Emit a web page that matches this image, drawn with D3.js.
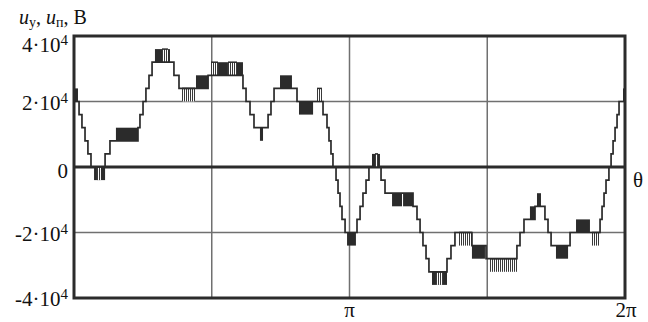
<!DOCTYPE html>
<html>
<head>
<meta charset="utf-8">
<script src="https://cdn.jsdelivr.net/npm/d3@7"></script>
<style>
  body { margin: 0; background: #fff; }
  svg { display: block; }
  text { font-family: "Liberation Serif", "Times New Roman", "DejaVu Serif", serif; }
</style>
</head>
<body>
<div id="chart"></div>
<script>
// staircase outline: theta in degrees (0..360 = 0..2pi), level in volts
const stepTheta = [0, 3.3, 5.2, 7.2, 9.1, 11.1, 20.3, 23.5, 41.8, 43.1, 45.1, 47.0, 49.0, 51.0, 65.3, 68.6,
  87.6, 110.4, 112.4, 115.0, 117.6, 126.8, 128.7, 130.7, 145.7, 162.7, 165.3, 166.6, 167.9, 169.2, 171.2,
  172.5, 173.8, 175.1, 177.1, 184.9, 186.9, 188.8, 190.8, 192.7, 200.6, 203.2, 221.5, 224.1, 226.1, 228.0,
  230.0, 231.9, 243.7, 246.3, 248.9, 260.0, 269.2, 289.4, 291.4, 294.0, 301.2, 307.7, 309.7, 311.7, 324.1,
  343.7, 345.0, 346.3, 347.6, 349.5, 350.9, 352.2, 353.5, 354.8, 356.1, 360];
const stepLevel = [20000, 16000, 12000, 8000, 4000, 0, 4000, 8000, 12000, 16000, 20000, 24000, 28000, 32000, 28000, 24000,
  28000, 24000, 20000, 16000, 12000, 16000, 20000, 24000, 20000, 16000, 12000, 8000, 4000, 0, -4000,
  -8000, -12000, -16000, -20000, -16000, -12000, -8000, -4000, 0, -4000, -8000, -12000, -16000, -20000, -24000,
  -28000, -32000, -28000, -24000, -20000, -24000, -28000, -24000, -20000, -16000, -12000, -16000, -20000, -24000, -20000,
  -16000, -12000, -8000, -4000, 0, 4000, 8000, 12000, 16000, 20000, 20000];

// fast switching between two neighbouring levels (solid blocks)
const pwmFrom = [0, 13.1, 27.4, 52.9, 79.7, 94.1, 106.5, 121.5, 134.6, 147.0, 178.4, 194.7, 207.8, 215.0,
  233.9, 260.0, 297.9, 302.5, 314.9, 328.0, 358.7];
const pwmTo = [2.6, 20.3, 41.8, 62.7, 87.6, 100.6, 110.4, 123.5, 142.4, 156.2, 184.2, 199.9, 214.3, 221.5,
  243.7, 268.5, 301.2, 305.1, 322.8, 337.1, 360];
const pwmLow = [20000, -4000, 8000, 32000, 24000, 28000, 28000, 8000, 24000, 16000, -24000, 0, -12000, -12000,
  -36000, -28000, -16000, -12000, -28000, -20000, 20000];

// sparse switching (hatched blocks)
const sparseFrom = [15.0, 57.5, 70.6, 89.5, 100.6, 158.8, 196.7, 236.5, 251.5, 271.8, 338.4];
const sparseTo = [17.6, 61.4, 79.1, 94.1, 106.5, 162.0, 198.6, 241.1, 260.0, 289.4, 343.7];
const sparseLow = [-4000, 32000, 20000, 28000, 28000, 20000, 0, -36000, -24000, -32000, -24000];

const levelStep = 4000;
const yTicks = [40000, 20000, 0, -20000, -40000];
const yGrid = [20000, -20000];
const xGrid = [90, 180, 270];
const xTicks = [180, 360];
const xTickLabels = ["π", "2π"];

const width = 648, height = 322;
const x = d3.scaleLinear().domain([0, 360]).range([74, 625]);
const y = d3.scaleLinear().domain([-40000, 40000]).range([298, 36]);
const ink = "#2b2b2b";

const svg = d3.select("#chart").append("svg")
  .attr("width", width)
  .attr("height", height)
  .attr("viewBox", `0 0 ${width} ${height}`);

// grid
svg.append("g").selectAll("line").data(xGrid).join("line")
  .attr("x1", d => x(d)).attr("x2", d => x(d))
  .attr("y1", y(40000)).attr("y2", y(-40000))
  .attr("stroke", "#707070").attr("stroke-width", 1.5);
svg.append("g").selectAll("line").data(yGrid).join("line")
  .attr("x1", x(0)).attr("x2", x(360))
  .attr("y1", d => y(d)).attr("y2", d => y(d))
  .attr("stroke", "#707070").attr("stroke-width", 1.5);
svg.append("line")
  .attr("x1", x(0)).attr("x2", x(360))
  .attr("y1", y(0)).attr("y2", y(0))
  .attr("stroke", ink).attr("stroke-width", 3);

// solid blocks
svg.append("g").selectAll("rect").data(pwmFrom).join("rect")
  .attr("x", (d, i) => x(d))
  .attr("width", (d, i) => x(pwmTo[i]) - x(d))
  .attr("y", (d, i) => y(pwmLow[i] + levelStep))
  .attr("height", (d, i) => y(pwmLow[i]) - y(pwmLow[i] + levelStep))
  .attr("fill", ink);

// hatched blocks
const hatch = svg.append("g");
sparseFrom.forEach((d, i) => {
  const x0 = x(d), x1 = x(sparseTo[i]);
  const yTop = y(sparseLow[i] + levelStep), yBot = y(sparseLow[i]);
  hatch.append("rect")
    .attr("x", x0).attr("width", x1 - x0)
    .attr("y", yTop).attr("height", yBot - yTop)
    .attr("fill", "#fff");
  hatch.append("g").selectAll("line").data(d3.range(Math.round(x0) + 0.5, x1, 2)).join("line")
    .attr("x1", v => v).attr("x2", v => v)
    .attr("y1", yTop).attr("y2", yBot)
    .attr("stroke", "#3a3a3a").attr("stroke-width", 1);
  hatch.append("line")
    .attr("x1", x0).attr("x2", x1).attr("y1", yTop).attr("y2", yTop)
    .attr("stroke", ink).attr("stroke-width", 1.5);
});

// staircase outline
const line = d3.line()
  .x((d, i) => x(d))
  .y((d, i) => y(stepLevel[i]))
  .curve(d3.curveStepAfter);
svg.append("path")
  .attr("d", line(stepTheta))
  .attr("fill", "none")
  .attr("stroke", ink)
  .attr("stroke-width", 1.7);

// frame
svg.append("rect")
  .attr("x", x(0)).attr("y", y(40000))
  .attr("width", x(360) - x(0)).attr("height", y(-40000) - y(40000))
  .attr("fill", "none").attr("stroke", ink).attr("stroke-width", 3);

// y tick labels
const yLab = svg.append("g").attr("font-size", 21).attr("text-anchor", "end").attr("fill", "#111");
yTicks.forEach(v => {
  const t = yLab.append("text")
    .attr("x", 68)
    .attr("y", v === 40000 ? 52 : v === 0 ? y(v) + 11 : y(v) + 8);
  if (v === 0) { t.text("0"); return; }
  t.append("tspan").text(`${v / 10000 < 0 ? "-" : ""}${Math.abs(v / 10000)}·10`);
  t.append("tspan").attr("font-size", 15).attr("dy", -7).text("4");
});

// x tick labels
svg.append("g").attr("font-size", 21).attr("text-anchor", "middle").attr("fill", "#111")
  .selectAll("text").data(xTicks).join("text")
  .attr("x", d => x(d) + (d === 360 ? 1 : 0))
  .attr("y", 317)
  .text((d, i) => xTickLabels[i]);

svg.append("text")
  .attr("x", 638).attr("y", 187)
  .attr("font-size", 21).attr("text-anchor", "middle").attr("fill", "#111")
  .text("θ");

// axis title
const title = svg.append("text").attr("x", 19).attr("y", 24).attr("font-size", 20).attr("fill", "#111");
title.append("tspan").attr("font-style", "italic").text("u");
title.append("tspan").attr("font-size", 14).attr("dy", 3).text("у");
title.append("tspan").attr("dy", -3).text(", ");
title.append("tspan").attr("font-style", "italic").text("u");
title.append("tspan").attr("font-size", 14).attr("dy", 3).text("п");
title.append("tspan").attr("dy", -3).text(", В");
</script>
</body>
</html>
